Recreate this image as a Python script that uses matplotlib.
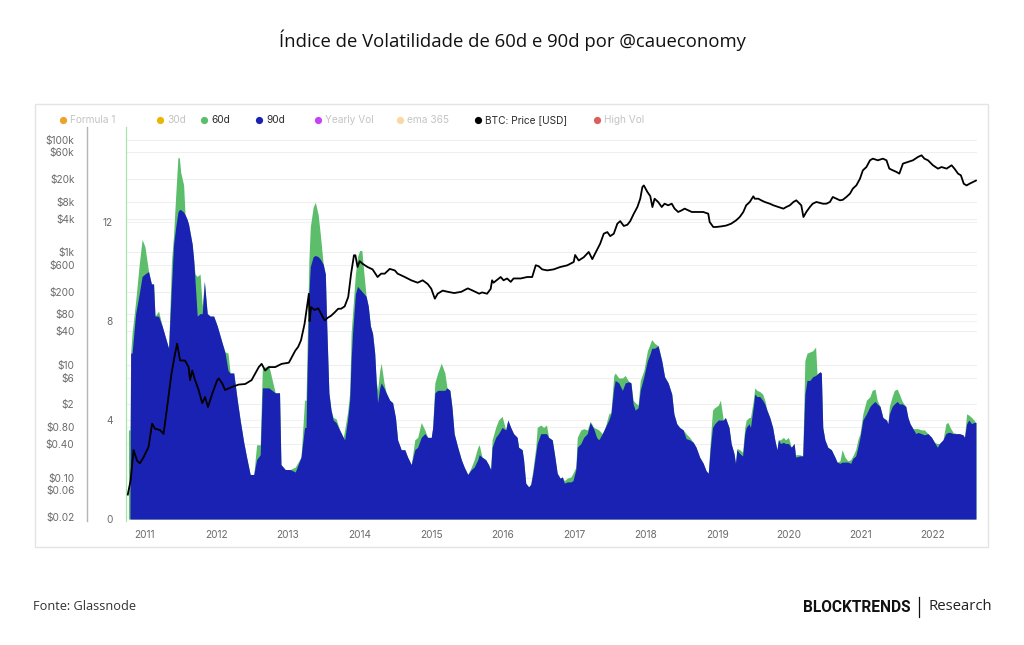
import matplotlib
matplotlib.use("Agg")
import matplotlib.pyplot as plt
from matplotlib.lines import Line2D
from matplotlib.patches import Rectangle
from matplotlib.transforms import blended_transform_factory

# ---------------- data ----------------
# volatility series: time in decimal years, 90d (blue) and 60d (green)
vol_t = [2010.77, 2010.79, 2010.80, 2010.82, 2010.87, 2010.92, 2010.96, 2011.00, 2011.05, 2011.09,
         2011.12, 2011.14, 2011.19, 2011.24, 2011.31, 2011.33, 2011.37, 2011.40, 2011.43, 2011.46,
         2011.48, 2011.50, 2011.54, 2011.56, 2011.59, 2011.61, 2011.66, 2011.68, 2011.70, 2011.73,
         2011.77, 2011.80, 2011.83, 2011.87, 2011.91, 2011.96, 2012.01, 2012.08, 2012.12, 2012.16,
         2012.19, 2012.24, 2012.29, 2012.33, 2012.38, 2012.42, 2012.47, 2012.52, 2012.56, 2012.61,
         2012.64, 2012.73, 2012.82, 2012.88, 2012.90, 2012.96, 2013.03, 2013.10,
         2013.18, 2013.23, 2013.25, 2013.29, 2013.31, 2013.35, 2013.38, 2013.42, 2013.45, 2013.49,
         2013.52, 2013.54, 2013.57, 2013.60, 2013.63, 2013.67, 2013.72, 2013.77, 2013.79, 2013.83,
         2013.86, 2013.88, 2013.90, 2013.94, 2013.97, 2014.00, 2014.03, 2014.06, 2014.09, 2014.12,
         2014.15, 2014.18, 2014.21, 2014.23, 2014.25, 2014.28, 2014.30, 2014.34, 2014.37, 2014.42,
         2014.46, 2014.50, 2014.53, 2014.58, 2014.63, 2014.67, 2014.72, 2014.77, 2014.81, 2014.86,
         2014.91, 2014.95, 2015.00, 2015.02, 2015.05, 2015.09, 2015.14, 2015.19, 2015.22, 2015.26,
         2015.29, 2015.32, 2015.37, 2015.42, 2015.46, 2015.51, 2015.56, 2015.60, 2015.65,
         2015.67, 2015.71, 2015.76, 2015.80, 2015.83, 2015.85, 2015.90, 2015.94, 2015.99, 2016.04,
         2016.07, 2016.11, 2016.15, 2016.20, 2016.22, 2016.27, 2016.29, 2016.32, 2016.36, 2016.39,
         2016.42, 2016.46, 2016.48, 2016.53, 2016.57, 2016.61, 2016.64, 2016.69, 2016.72, 2016.76,
         2016.80, 2016.83, 2016.86, 2016.90, 2016.95, 2016.98, 2017.02, 2017.04, 2017.09, 2017.13,
         2017.18, 2017.22, 2017.27, 2017.31, 2017.34, 2017.39, 2017.43, 2017.48, 2017.51, 2017.55,
         2017.57, 2017.62, 2017.67, 2017.71, 2017.76, 2017.79, 2017.82, 2017.85, 2017.89, 2017.92,
         2017.97, 2018.02, 2018.06,
         2018.08, 2018.12, 2018.17, 2018.22, 2018.26, 2018.31, 2018.36, 2018.39, 2018.43, 2018.47,
         2018.52, 2018.56, 2018.61, 2018.66, 2018.70, 2018.75, 2018.80, 2018.84, 2018.87, 2018.90,
         2018.93, 2018.96, 2019.01, 2019.04, 2019.08, 2019.11, 2019.16, 2019.19, 2019.23, 2019.25,
         2019.27, 2019.31, 2019.35, 2019.38, 2019.40, 2019.44, 2019.46, 2019.50, 2019.52, 2019.55,
         2019.59, 2019.63, 2019.66, 2019.69, 2019.73, 2019.77, 2019.80, 2019.83, 2019.85, 2019.88,
         2019.92, 2019.95, 2019.99, 2020.03, 2020.07, 2020.09, 2020.15, 2020.19, 2020.22, 2020.25,
         2020.29, 2020.33, 2020.37, 2020.39, 2020.43,
         2020.45, 2020.47, 2020.50, 2020.54, 2020.59, 2020.64, 2020.67, 2020.71, 2020.74, 2020.78,
         2020.82, 2020.86, 2020.89, 2020.93, 2020.96, 2020.99, 2021.03, 2021.08, 2021.13, 2021.16,
         2021.20, 2021.23, 2021.27, 2021.31, 2021.36, 2021.38, 2021.40, 2021.44, 2021.47, 2021.51,
         2021.54, 2021.58, 2021.63, 2021.66, 2021.69, 2021.73, 2021.77, 2021.80, 2021.85, 2021.89,
         2021.94, 2021.99, 2022.03, 2022.07, 2022.10, 2022.15, 2022.19, 2022.22, 2022.25, 2022.29,
         2022.34, 2022.38, 2022.43, 2022.45, 2022.48, 2022.51, 2022.55, 2022.58, 2022.61]

vol90 = [0.0, 0.0, 6.7, 6.7, 8.3, 9.1, 9.8, 9.9, 10.0, 9.5,
         9.5, 8.2, 8.2, 7.8, 7.1, 6.9, 9.4, 11.1, 11.8, 12.4,
         12.5, 12.5, 12.4, 12.3, 12.1, 11.9, 11.1, 10.5, 9.6, 8.2,
         8.3, 8.3, 9.6, 8.3, 8.2, 8.2, 7.8, 7.1, 6.7, 6.0,
         5.9, 5.9, 4.8, 4.0, 3.1, 2.5, 1.8, 1.8, 2.4, 2.6,
         5.3, 5.3, 5.1, 5.1, 2.2, 2.0, 2.0, 1.9,
         2.5, 3.7, 3.7, 9.1, 10.2, 10.6, 10.65, 10.6, 10.5, 10.3,
         9.9, 7.8, 5.1, 4.4, 4.0, 3.9, 3.6, 3.3, 3.2, 4.0,
         4.8, 6.4, 7.5, 9.1, 9.4, 9.3, 9.2, 9.1, 9.0, 8.6,
         7.8, 7.5, 6.7, 5.6, 4.7, 5.3, 5.5, 5.3, 5.1, 4.8,
         4.7, 4.1, 3.2, 2.8, 2.8, 2.5, 2.2, 2.8, 2.9, 3.3,
         3.45, 3.3, 3.3, 3.7, 5.1, 5.2, 5.2, 5.2, 5.3, 5.2,
         4.5, 3.45, 2.9, 2.4, 2.1, 1.8, 2.0, 2.1, 2.4,
         2.6, 2.5, 2.4, 2.2, 2.0, 2.9, 3.3, 3.45, 3.7, 3.6,
         4.0, 3.7, 3.45, 3.3, 2.9, 2.8, 2.4, 1.45, 1.3, 1.4,
         1.85, 2.65, 3.05, 3.45, 3.45, 3.45, 3.3, 3.2, 2.65, 1.85,
         1.65, 1.7, 1.45, 1.5, 1.5, 1.55, 2.0, 2.9, 3.05, 3.3,
         3.45, 3.9, 3.65, 3.3, 3.2, 3.45, 3.7, 4.0, 4.25, 5.3,
         5.6, 5.5, 5.2, 5.5, 5.55, 5.5, 4.65, 4.4, 4.5, 5.2,
         5.75, 6.4, 6.7,
         6.9, 6.9, 7.0, 6.4, 5.75, 5.5, 5.05, 4.25, 3.85, 3.7,
         3.6, 3.25, 3.2, 3.1, 2.9, 2.5, 2.25, 1.95, 1.85, 2.9,
         3.7, 3.85, 4.0, 4.0, 4.0, 4.1, 3.7, 3.05, 2.65, 2.25,
         2.8, 2.65, 2.55, 3.45, 3.7, 3.85, 3.7, 4.55, 5.05, 4.95,
         4.95, 4.8, 4.65, 4.4, 4.1, 3.7, 3.2, 2.8, 3.2, 3.05,
         3.1, 3.05, 3.05, 2.9, 3.05, 2.5, 2.55, 2.55, 5.05, 5.6,
         5.6, 5.75, 5.8, 5.85, 5.95,
         5.9, 3.7, 3.2, 2.9, 2.8, 2.5, 2.3, 2.25, 2.3, 2.3,
         2.3, 2.25, 2.45, 2.55, 2.9, 3.3, 4.0, 4.25, 4.55, 4.65,
         4.75, 4.65, 4.55, 4.1, 4.0, 3.85, 4.25, 4.55, 4.65, 4.75,
         4.65, 4.65, 4.55, 4.1, 3.85, 3.65, 3.45, 3.5, 3.45, 3.4,
         3.45, 3.3, 3.1, 2.9, 3.05, 3.2, 3.45, 3.5, 3.5, 3.45,
         3.45, 3.45, 3.4, 3.3, 3.85, 4.0, 3.85, 3.9, 3.9]

vol60 = [3.6, 3.6, 6.7, 7.5, 8.8, 10.3, 11.3, 11.0, 10.0, 9.5,
         9.5, 8.2, 8.4, 7.8, 7.1, 6.9, 10.4, 11.5, 13.1, 14.6,
         14.6, 14.0, 13.5, 12.3, 12.1, 11.9, 11.1, 10.5, 9.9, 9.8,
         9.9, 8.6, 9.6, 8.3, 8.2, 8.2, 7.8, 7.1, 6.75, 6.7,
         5.9, 5.9, 4.8, 4.0, 3.1, 2.5, 1.8, 1.8, 3.0, 3.0,
         6.1, 6.2, 5.1, 5.1, 2.2, 2.0, 2.0, 2.1,
         2.5, 4.8, 4.8, 10.45, 11.8, 12.6, 12.8, 12.3, 11.5, 10.3,
         9.9, 7.8, 5.1, 4.4, 4.1, 4.05, 3.6, 3.3, 3.6, 4.3,
         5.1, 7.5, 8.3, 9.9, 10.6, 10.85, 10.85, 9.9, 9.0, 8.6,
         7.8, 7.5, 6.7, 5.6, 5.2, 6.0, 6.3, 5.5, 5.1, 4.8,
         4.7, 4.1, 3.2, 2.8, 2.8, 2.5, 2.2, 3.2, 3.3, 3.9,
         3.6, 3.3, 3.3, 3.7, 5.5, 5.9, 6.3, 5.9, 5.3, 5.2,
         4.5, 3.45, 2.9, 2.4, 2.1, 1.8, 2.1, 2.4, 2.9,
         3.0, 2.5, 2.4, 2.2, 2.0, 3.2, 3.7, 4.0, 4.15, 3.6,
         4.0, 3.7, 3.45, 3.3, 2.9, 2.8, 2.4, 1.45, 1.3, 1.4,
         2.0, 2.9, 3.7, 3.8, 3.7, 3.8, 3.3, 3.2, 2.65, 1.85,
         1.65, 1.7, 1.55, 1.65, 1.7, 1.85, 2.1, 3.3, 3.6, 3.65,
         3.6, 3.95, 3.7, 3.65, 3.6, 3.45, 3.7, 4.25, 4.3, 5.8,
         5.9, 5.7, 5.7, 5.8, 5.55, 5.5, 4.8, 4.7, 4.6, 5.6,
         6.0, 6.8, 7.1,
         7.25, 7.1, 7.0, 6.4, 5.75, 5.5, 5.05, 4.25, 3.85, 3.7,
         3.6, 3.45, 3.3, 3.1, 2.9, 2.5, 2.25, 1.95, 1.85, 3.2,
         4.4, 4.5, 4.6, 4.8, 4.0, 4.1, 3.7, 3.05, 2.65, 2.25,
         2.85, 2.8, 2.7, 3.7, 4.0, 4.1, 4.1, 4.8, 5.3, 5.2,
         5.15, 5.05, 4.8, 4.4, 4.1, 3.7, 3.2, 2.8, 3.2, 3.2,
         3.3, 3.2, 3.3, 2.9, 3.05, 2.6, 2.6, 2.55, 6.4, 6.7,
         6.75, 6.8, 6.95, 5.85, 5.95,
         5.9, 3.7, 3.2, 2.9, 2.8, 2.5, 2.3, 2.35, 2.8, 2.5,
         2.35, 2.4, 2.55, 2.8, 3.2, 3.45, 4.25, 4.8, 4.95, 5.2,
         5.25, 4.8, 4.55, 4.1, 4.0, 3.85, 4.55, 4.95, 5.2, 5.25,
         5.05, 4.75, 4.55, 4.1, 3.85, 3.65, 3.65, 3.65, 3.6, 3.6,
         3.45, 3.3, 3.1, 3.05, 3.05, 3.2, 3.85, 3.9, 3.7, 3.5,
         3.45, 3.45, 3.4, 3.3, 4.25, 4.2, 4.1, 4.0, 3.9]

# BTC price (USD)
price_t = [2010.76, 2010.80, 2010.84, 2010.89, 2010.93, 2010.98, 2011.05, 2011.10, 2011.14, 2011.21,
           2011.26, 2011.31, 2011.37, 2011.42, 2011.45, 2011.49, 2011.56, 2011.61, 2011.63, 2011.66,
           2011.70, 2011.75, 2011.80, 2011.84, 2011.88, 2011.94, 2012.01, 2012.03, 2012.08, 2012.12,
           2012.22, 2012.31, 2012.40, 2012.49, 2012.59, 2012.63, 2012.68, 2012.73, 2012.82, 2012.91,
           2013.01, 2013.10,
           2013.14, 2013.18, 2013.23, 2013.27, 2013.29, 2013.30, 2013.32, 2013.37, 2013.42, 2013.46,
           2013.51, 2013.56, 2013.60, 2013.65, 2013.70, 2013.74, 2013.79, 2013.84, 2013.88, 2013.92,
           2013.94, 2013.97, 2014.00, 2014.04, 2014.11, 2014.18, 2014.25, 2014.30, 2014.35, 2014.42,
           2014.49, 2014.53, 2014.63, 2014.72, 2014.81, 2014.88, 2014.95, 2015.00, 2015.05, 2015.09,
           2015.16, 2015.23, 2015.32, 2015.42, 2015.51, 2015.58,
           2015.67, 2015.71, 2015.78, 2015.83, 2015.85, 2015.87, 2015.97, 2016.01, 2016.06, 2016.11,
           2016.15, 2016.25, 2016.34, 2016.41, 2016.46, 2016.50, 2016.55, 2016.62, 2016.71, 2016.80,
           2016.90, 2016.99, 2017.01, 2017.06, 2017.13, 2017.20, 2017.25, 2017.29, 2017.36, 2017.41,
           2017.46, 2017.50, 2017.55, 2017.60, 2017.64, 2017.69, 2017.74, 2017.78, 2017.83, 2017.88,
           2017.92, 2017.95, 2017.97, 2018.02, 2018.06,
           2018.09, 2018.12, 2018.17, 2018.22, 2018.26, 2018.31, 2018.36, 2018.40, 2018.45, 2018.50,
           2018.54, 2018.59, 2018.64, 2018.70, 2018.80, 2018.87, 2018.89, 2018.94, 2018.98, 2019.05,
           2019.12, 2019.19, 2019.26, 2019.31, 2019.36, 2019.40, 2019.45, 2019.50, 2019.52, 2019.57,
           2019.61, 2019.66, 2019.73, 2019.78, 2019.85, 2019.92, 2019.96, 2020.01, 2020.06, 2020.10,
           2020.17, 2020.20, 2020.24, 2020.29, 2020.33, 2020.38, 2020.43,
           2020.47, 2020.52, 2020.57, 2020.61, 2020.66, 2020.71, 2020.75, 2020.80, 2020.85, 2020.89,
           2020.94, 2020.99, 2021.03, 2021.08, 2021.13, 2021.17, 2021.24, 2021.31, 2021.36, 2021.40,
           2021.45, 2021.50, 2021.54, 2021.59, 2021.66, 2021.73, 2021.80, 2021.85, 2021.89, 2021.94,
           2022.01, 2022.08, 2022.13, 2022.20, 2022.27, 2022.31, 2022.36, 2022.40, 2022.44, 2022.48,
           2022.52, 2022.57, 2022.61]

price = [0.05, 0.09, 0.31, 0.20, 0.18, 0.23, 0.35, 0.91, 0.74, 0.70,
         0.60, 1.80, 7.0, 15.9, 24.0, 12.1, 12.0, 9.2, 5.4, 8.0,
         5.4, 3.6, 2.1, 2.7, 1.8, 3.1, 5.4, 5.8, 4.7, 3.6,
         4.1, 4.5, 4.6, 5.4, 9.2, 10.5, 8.0, 9.2, 9.2, 10.5,
         11.0, 18.0,
         21, 27.5, 54, 123, 185, 60, 107, 95, 102, 82,
         62, 70, 75, 86, 100, 100, 110, 162, 420, 890,
         890, 551, 700, 630, 551, 500, 366, 420, 420, 510,
         480, 420, 366, 320, 290, 320, 275, 227, 151, 185,
         210, 200, 190, 200, 230, 210,
         185, 195, 185, 225, 320, 290, 366, 320, 345, 300,
         345, 345, 366, 366, 592, 570, 500, 480, 500, 550,
         590, 676, 900, 720, 820, 1020, 760, 960, 1430, 2150,
         2300, 1950, 2150, 3240, 3600, 2950, 3100, 3600, 4880, 6400,
         9000, 14500, 15500, 11850, 10000,
         6400, 9000, 7870, 6410, 7340, 6870, 7340, 5990, 5230, 5600,
         6000, 5600, 5230, 5230, 5230, 4880, 3470, 2830, 2830, 2900,
         3000, 3240, 3720, 4260, 5230, 6870, 7870, 9930, 9000, 9000,
         8430, 7870, 7340, 6870, 6410, 5990, 6410, 6870, 7870, 8430,
         6870, 4260, 5230, 6410, 7340, 7870, 7600,
         7340, 7340, 7870, 9660, 9010, 8430, 8600, 9660, 11060, 13580,
         15570, 20400, 28700, 32900, 43300, 46300, 43300, 46300, 43300, 30800,
         28700, 26900, 25100, 37800, 40500, 43300, 49600, 53100, 46300, 43300,
         35300, 30800, 32900, 30800, 35300, 30800, 25100, 23400, 16600, 15500,
         16600, 17800, 18900]

year_ticks = [2011, 2012, 2013, 2014, 2015, 2016, 2017, 2018, 2019, 2020, 2021, 2022]
vol_ticks = [0, 4, 8, 12]
price_ticks = [0.02, 0.06, 0.10, 0.40, 0.80, 2, 6, 10, 40, 80, 200, 600,
               1000, 4000, 8000, 20000, 60000, 100000]
price_labels = ["$0.02", "$0.06", "$0.10", "$0.40", "$0.80", "$2", "$6", "$10", "$40",
                "$80", "$200", "$600", "$1k", "$4k", "$8k", "$20k", "$60k", "$100k"]

legend_names = ["Formula 1", "30d", "60d", "90d", "Yearly Vol", "ema 365",
                "BTC: Price [USD]", "High Vol"]
legend_colors = ["#eda22a", "#e9b600", "#5cbd6b", "#1a22b4", "#c542f5", "#f9d9a3",
                 "#000000", "#d9605a"]
legend_active = [False, False, True, True, False, False, True, False]

# ---------------- figure ----------------
W, H = 1024, 645
fig = plt.figure(figsize=(W / 100, H / 100), dpi=100)
fig.patch.set_facecolor("white")

def fx(px):
    return px / W

def fy(py):
    return 1 - py / H

# panel border
fig.add_artist(Rectangle((fx(35), fy(547)), fx(988) - fx(35), fy(104) - fy(547),
                         transform=fig.transFigure, fill=False,
                         edgecolor="#e4e4e4", lw=1.0))

L, R, T, B = 126, 977, 127, 521
ax = fig.add_axes([fx(L), fy(B), fx(R) - fx(L), fy(T) - fy(B)])
ax2 = ax.twinx()

ax.set_xlim(2010.735, 2022.625)
ax.set_ylim(-0.08, 15.84)
ax2.set_yscale("log")
ax2.set_ylim(0.01698, 169000)

# faint gridlines (drawn in the background axes using price coordinates)
trans = blended_transform_factory(ax.transAxes, ax2.transData)
for v in price_ticks:
    ax.plot([0, 1], [v, v], transform=trans, color="#efefef", lw=0.8, zorder=0)
for v in vol_ticks[1:]:
    ax.axhline(v, color="#f2f2f2", lw=0.8, zorder=0)

green = "#5cbd6b"
blue = "#1a22b4"
ax.fill_between(vol_t, 0, vol60, color=green, lw=0, zorder=1)
ax.fill_between(vol_t, 0, vol90, color=blue, lw=0, zorder=2)

ax2.plot(price_t, price, color="black", lw=1.3, zorder=5)

# spines
for s in ["top", "right", "bottom"]:
    ax.spines[s].set_visible(False)
    ax2.spines[s].set_visible(False)
ax.spines["left"].set_color("#a9e5a9")
ax.spines["left"].set_linewidth(0.9)

ax2.yaxis.set_ticks_position("left")
ax2.spines["right"].set_visible(False)
ax2.spines["left"].set_visible(True)
# 39 px outward = 28.1 pt at 100 dpi
ax2.spines["left"].set_position(("outward", (L - 87) * 72 / 100))
ax2.spines["left"].set_color("#b5b5b5")
ax2.spines["left"].set_linewidth(1.0)

tick_font = "Inter"
ax2.set_yticks(price_ticks)
ax2.set_yticklabels(price_labels)
ax2.yaxis.set_minor_locator(matplotlib.ticker.NullLocator())
ax2.tick_params(axis="y", which="both", length=0, pad=9, labelsize=7.3,
                labelcolor="#6b6b6b")
for lab in ax2.get_yticklabels():
    lab.set_fontfamily(tick_font)

ax.set_yticks(vol_ticks)
ax.set_yticklabels([str(v) for v in vol_ticks])
ax.tick_params(axis="y", length=0, pad=9.5, labelsize=7.3, labelcolor="#6b6b6b")
ax.set_xticks(year_ticks)
ax.set_xticklabels([str(y) for y in year_ticks])
ax.tick_params(axis="x", length=0, pad=6.5, labelsize=7.3, labelcolor="#6b6b6b")
for lab in ax.get_yticklabels() + ax.get_xticklabels():
    lab.set_fontfamily(tick_font)

# legend (manual, to mimic the interactive chart legend)
dot_x = [63, 160, 204, 259, 318, 400, 478, 597]
ly = fy(120)
for name, col, act, x in zip(legend_names, legend_colors, legend_active, dot_x):
    fig.add_artist(Line2D([fx(x)], [ly], marker="o", markersize=5.2, color=col,
                          markeredgewidth=0, transform=fig.transFigure))
    fig.text(fx(x + 7), ly, name, ha="left", va="center", fontsize=7.3,
             family=tick_font, color="#2b2b2b" if act else "#c4c4c4")

# title and footer
fig.text(0.5, fy(40), "Índice de Volatilidade de 60d e 90d por @caueconomy",
         ha="center", va="center", fontsize=13.3, family="Open Sans", color="#111111")
fig.text(fx(33), fy(607), "Fonte: Glassnode", ha="left", va="center",
         fontsize=9.2, family="Open Sans", color="#333333")
fig.text(fx(910), fy(607), "BLOCKTRENDS", ha="right", va="center",
         fontsize=11.2, family="Roboto", weight="bold", color="#111111")
fig.add_artist(Line2D([fx(919), fx(919)], [fy(597), fy(617)], color="#111111",
                      lw=0.9, transform=fig.transFigure))
fig.text(fx(929), fy(607), "Research", ha="left", va="center",
         fontsize=10.7, family="Open Sans", color="#222222")

fig.savefig("out.png", dpi=100)
